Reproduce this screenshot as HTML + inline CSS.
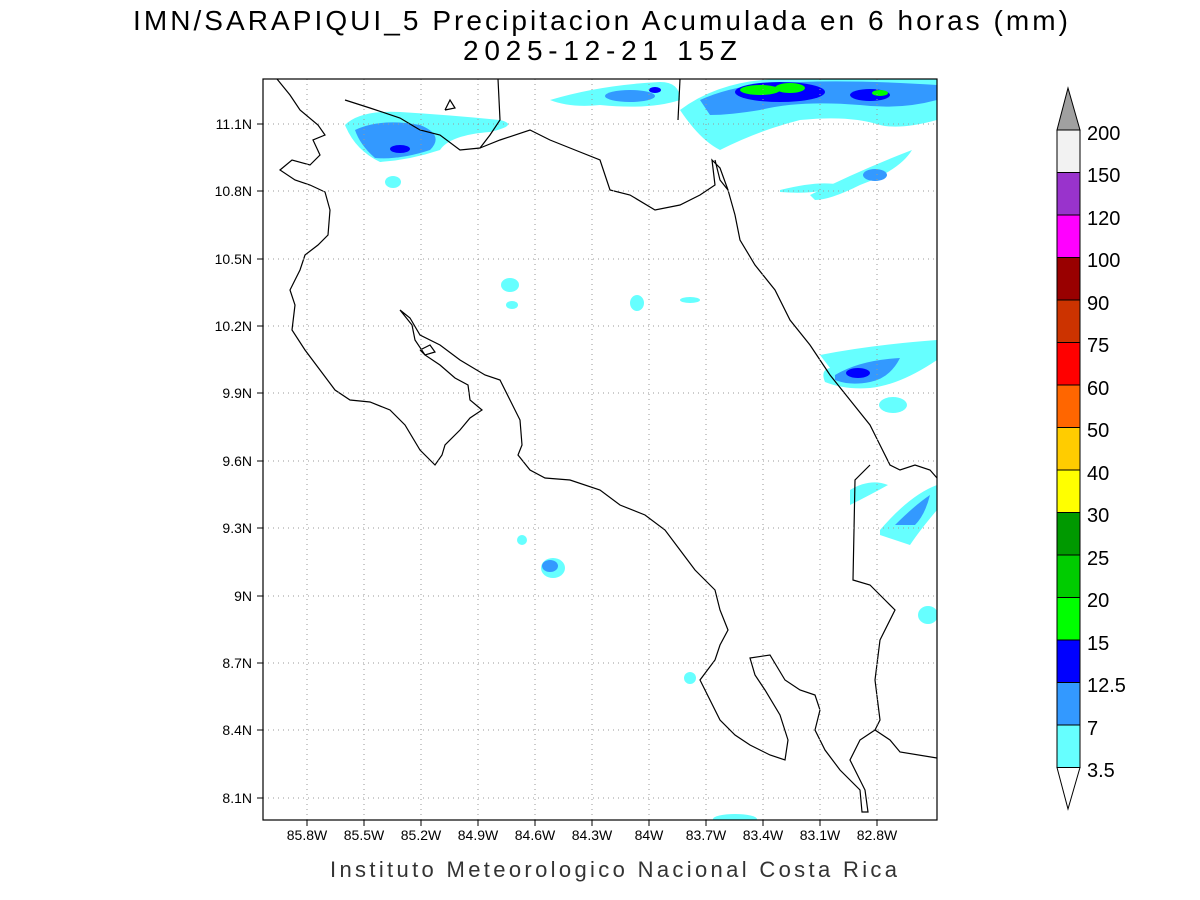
<!DOCTYPE html>
<html><head><meta charset="utf-8"><style>
html,body{margin:0;padding:0;background:#fff;}
svg{display:block;}
text{font-family:"Liberation Sans",sans-serif;}
</style></head><body>
<svg width="1200" height="900" viewBox="0 0 1200 900" xmlns="http://www.w3.org/2000/svg">
<rect width="1200" height="900" fill="#fff"/>
<text x="133" y="30" font-size="28" textLength="935" lengthAdjust="spacing">IMN/SARAPIQUI_5 Precipitacion Acumulada en 6 horas (mm)</text>
<text x="463" y="60" font-size="28" textLength="274" lengthAdjust="spacing">2025-12-21 15Z</text>
<defs><clipPath id="c"><rect x="263" y="79" width="674" height="741"/></clipPath></defs>
<g clip-path="url(#c)">
<g fill="#66ffff">
<path d="M345,125 Q360,110 400,112 Q450,115 500,120 Q520,125 490,132 Q450,135 440,150 Q410,160 380,162 Q355,150 345,125Z"/>
<ellipse cx="393" cy="182" rx="8" ry="6"/>
<path d="M550,100 Q600,85 660,82 Q680,82 680,100 Q650,110 600,105 Q570,108 550,100Z"/>
<path d="M680,110 Q720,80 780,79 L937,79 L937,120 Q900,130 880,125 Q850,115 800,120 Q760,130 720,150 Q700,140 680,110Z"/>
<path d="M780,190 Q820,180 840,185 Q820,195 780,192Z"/>
<path d="M810,195 Q860,170 912,150 Q900,170 860,185 Q830,200 815,200Z"/>
<ellipse cx="510" cy="285" rx="9" ry="7"/>
<ellipse cx="512" cy="305" rx="6" ry="4"/>
<ellipse cx="637" cy="303" rx="7" ry="8"/>
<ellipse cx="690" cy="300" rx="10" ry="3"/>
<path d="M820,355 Q870,345 937,340 L937,360 Q900,385 870,388 Q845,390 825,382 Q820,370 830,368Z"/>
<ellipse cx="893" cy="405" rx="14" ry="8"/>
<path d="M850,490 Q870,478 888,485 Q870,495 850,505Z"/>
<path d="M880,530 Q910,495 937,485 L937,510 Q920,530 910,545 Q895,540 880,535Z"/>
<ellipse cx="522" cy="540" rx="5" ry="5"/>
<ellipse cx="553" cy="568" rx="12" ry="10"/>
<ellipse cx="928" cy="615" rx="10" ry="9"/>
<ellipse cx="690" cy="678" rx="6" ry="6"/>
<ellipse cx="735" cy="819" rx="22" ry="5"/>
</g>
<g fill="#3399ff">
<path d="M355,130 Q380,118 420,125 Q445,135 430,150 Q400,160 375,158 Q360,145 355,130Z"/>
<ellipse cx="630" cy="96" rx="25" ry="6"/>
<path d="M700,100 Q740,82 800,82 Q860,80 937,85 L937,100 Q900,110 860,105 Q800,100 760,110 Q730,115 710,115Z"/>
<ellipse cx="875" cy="175" rx="12" ry="6"/>
<path d="M835,375 Q860,360 900,358 Q890,378 870,382 Q850,386 835,380Z"/>
<path d="M895,525 Q915,505 930,495 Q925,515 915,525Z"/>
<ellipse cx="550" cy="566" rx="8" ry="6"/>
</g>
<g fill="#0000ff"><ellipse cx="400" cy="149" rx="10" ry="4"/><ellipse cx="655" cy="90" rx="6" ry="3"/><ellipse cx="780" cy="92" rx="45" ry="10"/><ellipse cx="870" cy="95" rx="20" ry="6"/><ellipse cx="858" cy="373" rx="12" ry="5"/></g>
<g fill="#00ff00"><ellipse cx="760" cy="90" rx="20" ry="5"/><ellipse cx="790" cy="88" rx="15" ry="5"/><ellipse cx="880" cy="93" rx="8" ry="3"/></g>
<g fill="none" stroke="#000" stroke-width="1.2">
<polyline points="277,79 290,95 300,110 318,125 325,135 313,140 320,155 310,165 292,160 280,170 295,180 310,185 325,192 330,210 328,235 318,245 305,255 300,270 290,290 295,305 292,330 305,350 320,370 335,390 350,400 370,402 390,410 405,425 420,450 435,465 442,455 445,445 460,430 470,418 482,410 470,400 468,385 455,378 440,365 425,355 415,340 412,325 400,310 410,318 420,335 440,345 460,360 485,375 500,380 510,400 520,420 522,445 518,455 530,470 545,478 570,480 600,490 620,505 645,515 665,530 680,550 695,570 715,590 720,610 728,630 720,645 715,660 700,680 710,700 720,720 735,735 750,745 770,755 785,760 788,740 780,715 765,690 755,675 750,658 770,655 785,680 800,690 815,695 820,710 815,730 825,750 840,770 860,790 862,812 868,812 865,790 850,760 860,740 875,730 890,740 900,752 937,758"/>
<polyline points="715,160 720,180 728,190 735,215 740,240 755,265 775,290 790,320 810,345 830,375 850,400 870,425 880,445 890,465 900,470 915,465 930,470 937,478"/>
<polyline points="870,465 855,480 853,580 870,585 885,600 895,610 880,640 875,680 880,720 875,730"/>
<polyline points="345,100 370,108 400,118 420,130 440,135 460,150 480,148 490,135 500,120 498,79"/>
<polyline points="480,148 500,140 530,130 550,140 575,150 600,160 610,190 630,195 655,210 680,205 700,195 715,185 712,160 720,168 728,190"/>
<polyline points="680,79 678,120"/>
<polyline points="445,110 450,100 455,108 445,110"/>
<polyline points="420,350 430,345 435,352 425,355 420,350"/>
</g>
</g>
<g stroke="#999" stroke-width="1" stroke-dasharray="1,4">
<line x1="307" y1="79" x2="307" y2="820"/><line x1="364" y1="79" x2="364" y2="820"/><line x1="421" y1="79" x2="421" y2="820"/><line x1="478" y1="79" x2="478" y2="820"/><line x1="535" y1="79" x2="535" y2="820"/><line x1="592" y1="79" x2="592" y2="820"/><line x1="649" y1="79" x2="649" y2="820"/><line x1="706" y1="79" x2="706" y2="820"/><line x1="763" y1="79" x2="763" y2="820"/><line x1="820" y1="79" x2="820" y2="820"/><line x1="877" y1="79" x2="877" y2="820"/>
<line x1="263" y1="124" x2="937" y2="124"/><line x1="263" y1="191" x2="937" y2="191"/><line x1="263" y1="259" x2="937" y2="259"/><line x1="263" y1="326" x2="937" y2="326"/><line x1="263" y1="393" x2="937" y2="393"/><line x1="263" y1="461" x2="937" y2="461"/><line x1="263" y1="528" x2="937" y2="528"/><line x1="263" y1="596" x2="937" y2="596"/><line x1="263" y1="663" x2="937" y2="663"/><line x1="263" y1="730" x2="937" y2="730"/><line x1="263" y1="798" x2="937" y2="798"/>
</g>
<rect x="263" y="79" width="674" height="741" fill="none" stroke="#000" stroke-width="1.2"/>
<g stroke="#000"><line x1="307" y1="820" x2="307" y2="826"/><line x1="364" y1="820" x2="364" y2="826"/><line x1="421" y1="820" x2="421" y2="826"/><line x1="478" y1="820" x2="478" y2="826"/><line x1="535" y1="820" x2="535" y2="826"/><line x1="592" y1="820" x2="592" y2="826"/><line x1="649" y1="820" x2="649" y2="826"/><line x1="706" y1="820" x2="706" y2="826"/><line x1="763" y1="820" x2="763" y2="826"/><line x1="820" y1="820" x2="820" y2="826"/><line x1="877" y1="820" x2="877" y2="826"/>
<line x1="257" y1="124" x2="263" y2="124"/><line x1="257" y1="191" x2="263" y2="191"/><line x1="257" y1="259" x2="263" y2="259"/><line x1="257" y1="326" x2="263" y2="326"/><line x1="257" y1="393" x2="263" y2="393"/><line x1="257" y1="461" x2="263" y2="461"/><line x1="257" y1="528" x2="263" y2="528"/><line x1="257" y1="596" x2="263" y2="596"/><line x1="257" y1="663" x2="263" y2="663"/><line x1="257" y1="730" x2="263" y2="730"/><line x1="257" y1="798" x2="263" y2="798"/></g>
<g font-size="14" text-anchor="middle">
<text x="307" y="840">85.8W</text><text x="364" y="840">85.5W</text><text x="421" y="840">85.2W</text><text x="478" y="840">84.9W</text><text x="535" y="840">84.6W</text><text x="592" y="840">84.3W</text><text x="649" y="840">84W</text><text x="706" y="840">83.7W</text><text x="763" y="840">83.4W</text><text x="820" y="840">83.1W</text><text x="877" y="840">82.8W</text>
</g>
<g font-size="14" text-anchor="end">
<text x="252" y="129">11.1N</text><text x="252" y="196">10.8N</text><text x="252" y="264">10.5N</text><text x="252" y="331">10.2N</text><text x="252" y="398">9.9N</text><text x="252" y="466">9.6N</text><text x="252" y="533">9.3N</text><text x="252" y="601">9N</text><text x="252" y="668">8.7N</text><text x="252" y="735">8.4N</text><text x="252" y="803">8.1N</text>
</g>
<text x="330" y="877" font-size="22" textLength="567" lengthAdjust="spacing" fill="#333">Instituto Meteorologico Nacional Costa Rica</text>
<g stroke="#000" stroke-width="1">
<polygon points="1057,130 1080,130 1068,88" fill="#a0a0a0"/>
<rect x="1057" y="130" width="23" height="42.5" fill="#f2f2f2"/>
<rect x="1057" y="172.5" width="23" height="42.5" fill="#9933cc"/>
<rect x="1057" y="215" width="23" height="42.5" fill="#ff00ff"/>
<rect x="1057" y="257.5" width="23" height="42.5" fill="#990000"/>
<rect x="1057" y="300" width="23" height="42.5" fill="#cc3300"/>
<rect x="1057" y="342.5" width="23" height="42.5" fill="#ff0000"/>
<rect x="1057" y="385" width="23" height="42.5" fill="#ff6600"/>
<rect x="1057" y="427.5" width="23" height="42.5" fill="#ffcc00"/>
<rect x="1057" y="470" width="23" height="42.5" fill="#ffff00"/>
<rect x="1057" y="512.5" width="23" height="42.5" fill="#009900"/>
<rect x="1057" y="555" width="23" height="42.5" fill="#00cc00"/>
<rect x="1057" y="597.5" width="23" height="42.5" fill="#00ff00"/>
<rect x="1057" y="640" width="23" height="42.5" fill="#0000ff"/>
<rect x="1057" y="682.5" width="23" height="42.5" fill="#3399ff"/>
<rect x="1057" y="725" width="23" height="42.5" fill="#66ffff"/>
<polygon points="1057,767.5 1080,767.5 1068,809" fill="#fff"/>
</g>
<g font-size="20">
<text x="1087" y="140">200</text><text x="1087" y="182">150</text><text x="1087" y="225">120</text><text x="1087" y="267">100</text><text x="1087" y="310">90</text><text x="1087" y="352">75</text><text x="1087" y="395">60</text><text x="1087" y="437">50</text><text x="1087" y="480">40</text><text x="1087" y="522">30</text><text x="1087" y="565">25</text><text x="1087" y="607">20</text><text x="1087" y="650">15</text><text x="1087" y="692">12.5</text><text x="1087" y="735">7</text><text x="1087" y="777">3.5</text>
</g>
</svg>
</body></html>
